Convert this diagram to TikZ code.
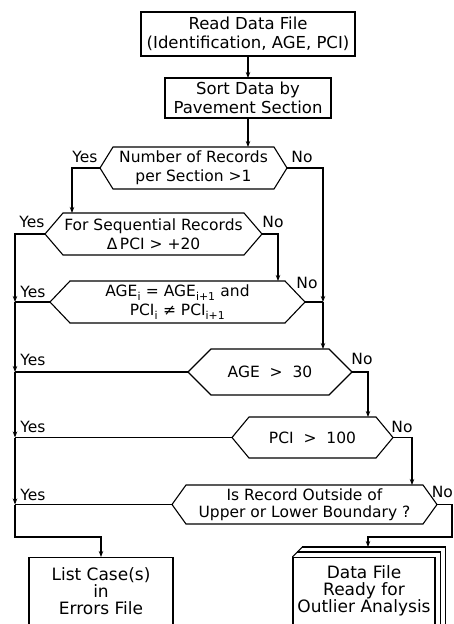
\documentclass[tikz,border=0pt]{standalone}
\usepackage{fontspec}
\setmainfont{DejaVu Sans}
\usetikzlibrary{arrows.meta}
\newcommand\hexoutline[2]{%
  \draw (#1.west) -- ([xshift=#2]#1.north west) -- ([xshift=-#2]#1.north east) -- (#1.east) -- ([xshift=-#2]#1.south east) -- ([xshift=#2]#1.south west) -- cycle;}
\begin{document}
\begin{tikzpicture}[x=1pt,y=-1pt,
  line width=1.1pt,
  arr/.style={-{Stealth[length=6pt,width=4.5pt]}},
  procbox/.style={draw, align=center, inner sep=0pt, outer sep=0pt, font=\fontsize{16.5}{19.5}\selectfont},
  hexbox/.style={align=center, inner sep=0pt, outer sep=0pt, font=\fontsize{15.5}{19}\selectfont},
  txt/.style={align=center, inner sep=0pt, font=\fontsize{17}{17}\selectfont},
  lbl/.style={inner sep=0pt, font=\fontsize{15.5}{18}\selectfont},
]
\useasboundingbox (0,0) rectangle (454,624);

% process boxes
\node[procbox, minimum width=214pt, minimum height=44pt] (read) at (248,34) {Read Data File\\(Identification, AGE, PCI)};
\node[procbox, minimum width=166pt, minimum height=40pt] (sort) at (248,98) {Sort Data by\\Pavement Section};

% decisions
\node[hexbox, minimum width=187pt, minimum height=42pt] (h1) at (193.5,168) {Number of Records\\per Section >1};
\hexoutline{h1}{13pt}
\node[hexbox, minimum width=217pt, minimum height=42pt] (h2) at (153.5,234) {For Sequential Records\\Δ\,PCI > +20};
\hexoutline{h2}{18pt}
\node[hexbox, minimum width=255pt, minimum height=42pt] (h3) at (177.5,302) {AGE\textsubscript{i} = AGE\textsubscript{i+1} and\\PCI\textsubscript{i} ≠ PCI\textsubscript{i+1}};
\hexoutline{h3}{20pt}
\node[hexbox, minimum width=164pt, minimum height=46pt] (h4) at (270,372) {AGE \ > \ 30};
\hexoutline{h4}{23pt}
\node[hexbox, minimum width=161pt, minimum height=41pt] (h5) at (312.5,437.5) {PCI \ > \ 100};
\hexoutline{h5}{17pt}
\node[hexbox, minimum width=265pt, minimum height=39pt, font=\fontsize{15.5}{16.5}\selectfont] (h6) at (304.5,504.5) {Is Record Outside of\\Upper or Lower Boundary ?};
\hexoutline{h6}{14pt}

% output boxes
\node[draw, minimum width=144pt, minimum height=84pt, anchor=north] (errs) at (101,557) {};
\node[txt] (errstext) at (101,591) {List Case(s)\\in\\Errors File};
\node[draw, minimum width=142pt, minimum height=84pt, anchor=north] (out) at (364,557) {};
\node[txt] (outtext) at (364,591) {Data File\\Ready for\\Outlier Analysis};
\draw ([shift={(5pt,5pt)}]out.north west) -- ([shift={(5pt,5pt)}]out.north east) -- ([shift={(5pt,5pt)}]out.south east);
\draw ([shift={(10pt,10pt)}]out.north west) coordinate (stacktop) -- ([shift={(10pt,10pt)}]out.north east) -- ([shift={(10pt,10pt)}]out.south east);
\draw (out.north west) -- (stacktop);

% connectors
\draw[arr] (read.south) -- (sort.north);
\draw[arr] (sort.south) -- (sort.south |- h1.north);

\coordinate (y1) at (72,168);
\draw[arr] (h1.west) -- (y1) -- (y1 |- h2.north);
\coordinate (n1) at (323,168);
\coordinate (j3r) at (323,302);
\draw[arr] (h1.east) -- (n1) -- (j3r);
\draw (h3.east) -- (j3r);
\draw[arr] (j3r) -- (j3r |- h4.north);

\coordinate (n2) at (278,234);
\draw[arr] (h2.east) -- (n2) -- (n2 |- h3.north);

\coordinate (y2) at (15,234);
\coordinate (j3l) at (15,302);
\coordinate (j4l) at (15,372);
\coordinate (j5l) at (15,437.5);
\coordinate (j6l) at (15,504.5);
\coordinate (b1) at (15,537);
\coordinate (b2) at (101,537);
\draw[arr] (h2.west) -- (y2) -- (j3l);
\draw (h3.west) -- (j3l);
\draw[arr] (j3l) -- (j4l);
\draw (h4.west) -- (j4l);
\draw[arr] (j4l) -- (j5l);
\draw (h5.west) -- (j5l);
\draw[arr] (j5l) -- (j6l);
\draw (h6.west) -- (j6l);
\draw[arr] (j6l) -- (b1) -- (b2) -- (errs.north);

\coordinate (n4) at (368,372);
\draw[arr] (h4.east) -- (n4) -- (n4 |- h5.north);
\coordinate (n5) at (412,437.5);
\draw[arr] (h5.east) -- (n5) -- (n5 |- h6.north);
\coordinate (n6a) at (452,504.5);
\coordinate (n6b) at (452,537);
\coordinate (n6c) at (368,537);
\draw[arr] (h6.east) -- (n6a) -- (n6b) -- (n6c) -- (n6c |- stacktop);

% labels
\node[lbl] (yes1) at (85,157) {Yes};
\node[lbl] (yes2) at (32,222) {Yes};
\node[lbl] (yes3) at (33,292) {Yes};
\node[lbl] (yes4) at (33,360) {Yes};
\node[lbl] (yes5) at (33,427) {Yes};
\node[lbl] (yes6) at (33,495) {Yes};
\node[lbl] (no1) at (302,157) {No};
\node[lbl] (no2) at (273,222) {No};
\node[lbl] (no3) at (307,283) {No};
\node[lbl] (no4) at (362,359) {No};
\node[lbl] (no5) at (402,427) {No};
\node[lbl, anchor=east] (no6) at (453.5,492) {No};
\end{tikzpicture}
\end{document}
